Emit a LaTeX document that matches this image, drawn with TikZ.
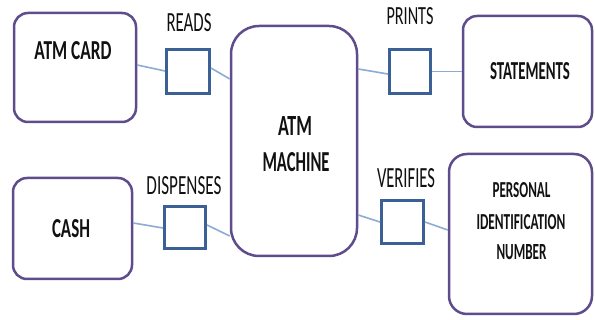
\documentclass[tikz,border=0pt]{standalone}
\usepackage{fontspec}
\setmainfont{Carlito}
\usepackage{graphicx}
\usetikzlibrary{calc}
\definecolor{boxpurple}{RGB}{94,76,140}
\definecolor{smallblue}{RGB}{59,96,150}
\definecolor{linkblue}{RGB}{140,172,212}
\definecolor{ink}{RGB}{17,17,17}
\newcommand{\fitB}[3]{\resizebox{#1pt}{#2pt}{\bfseries #3}}
\newcommand{\fitR}[3]{\resizebox{#1pt}{#2pt}{#3}}
\tikzset{
  bigbox/.style={draw=boxpurple, line width=2.5pt, rounded corners=#1, fill=white, inner sep=0pt},
  bigbox/.default=14pt,
  smallbox/.style={draw=smallblue, line width=3pt, fill=white, inner sep=0pt},
  txt/.style={inner sep=0pt, text=ink},
  link/.style={draw=linkblue, line width=1.6pt}
}
\begin{document}
\begin{tikzpicture}[x=1pt, y=-1pt]
\useasboundingbox[fill=white] (0,0) rectangle (595,320);

% big boxes
\node[bigbox, minimum width=122pt, minimum height=109pt] (card) at (75,67.5) {};
\node[bigbox=28pt, minimum width=126pt, minimum height=230pt] (machine) at (294,141) {};
\node[bigbox, minimum width=129pt, minimum height=111pt] (statements) at (527.5,71.5) {};
\node[bigbox, minimum width=119pt, minimum height=101pt] (cash) at (72.5,228.5) {};
\node[bigbox=18pt, minimum width=143pt, minimum height=160pt] (pin) at (520.5,234) {};

% small boxes
\node[smallbox, minimum width=43pt, minimum height=44pt] (reads) at (188,71.5) {};
\node[smallbox, minimum width=41pt, minimum height=44pt] (prints) at (410,71.5) {};
\node[smallbox, minimum width=41pt, minimum height=42pt] (dispenses) at (185,227.5) {};
\node[smallbox, minimum width=42pt, minimum height=43pt] (verifies) at (402.5,222) {};

% texts in boxes
\node[txt] (tcard) at (73,51) {\fitB{77}{18}{ATM CARD}};
\node[txt] (tatm) at (295,126) {\fitB{34}{19}{ATM}};
\node[txt] (tmachine) at (296,162.5) {\fitB{67}{19}{MACHINE}};
\node[txt] (tstat) at (530,71.5) {\fitB{80}{17}{STATEMENTS}};
\node[txt] (tcash) at (71,229) {\fitB{38}{18}{CASH}};
\node[txt] (tpin1) at (521.5,190) {\fitB{58}{15}{PERSONAL}};
\node[txt] (tpin2) at (521,222.5) {\fitB{89}{15}{IDENTIFICATION}};
\node[txt] (tpin3) at (521.5,252.5) {\fitB{50}{15}{NUMBER}};

% relation labels
\node[txt] (lreads) at (189,22.5) {\fitR{45}{18}{READS}};
\node[txt] (lprints) at (410,16.5) {\fitR{47}{17}{PRINTS}};
\node[txt] (ldisp) at (184,186) {\fitR{75}{18}{DISPENSES}};
\node[txt] (lverif) at (406,178) {\fitR{58}{19}{VERIFIES}};

% connectors
\begin{scope}[on background layer/.style={}]
\draw[link] ($(card.east)+(0,-2.5)$) -- ($(reads.west)+(0,-0.5)$);
\draw[link] ($(reads.east)+(0,-3.5)$) -- ($(machine.west)+(0,-62)$);
\draw[link] ($(machine.east)+(0,-72)$) -- ($(prints.west)+(0,2.5)$);
\draw[link] (prints.east) -- (statements.west);
\draw[link] ($(cash.east)+(0,-5.5)$) -- ($(dispenses.west)+(0,0.5)$);
\draw[link] ($(dispenses.east)+(0,-2.5)$) -- ($(machine.west)+(0,95)$);
\draw[link] ($(machine.east)+(0,74)$) -- (verifies.west);
\draw[link] (verifies.east) -- ($(pin.west)+(0,-4)$);
\end{scope}
\end{tikzpicture}
\end{document}
